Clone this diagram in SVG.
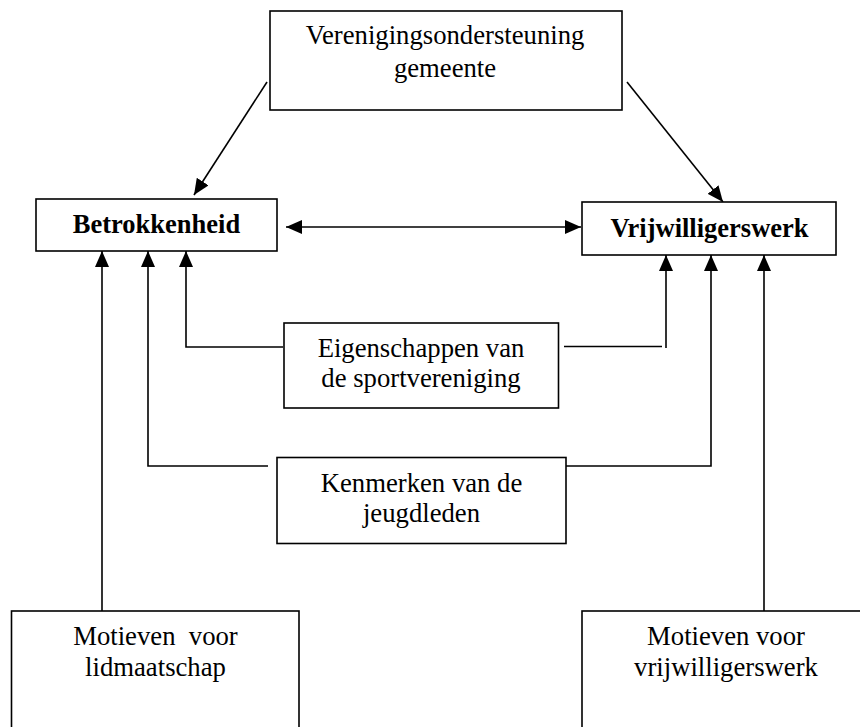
<svg xmlns="http://www.w3.org/2000/svg" width="860" height="727" viewBox="0 0 860 727">
  <style>
    .box { fill: #ffffff; stroke: #000000; stroke-width: 1.6; }
    .t { font-family: "Liberation Serif", "Times New Roman", serif; font-size: 26.7px; fill: #000000; text-anchor: middle; }
    .b { font-weight: bold; font-size: 26.5px; }
    .con { fill: none; stroke: #000000; stroke-width: 1.6; }
  </style>
  <defs>
    <marker id="ah" markerUnits="userSpaceOnUse" markerWidth="16" markerHeight="14" refX="16" refY="7" orient="auto-start-reverse">
      <path d="M0,0 L16,7 L0,14 z" fill="#000000"/>
    </marker>
  </defs>
  <rect width="860" height="727" fill="#ffffff"/>

  <g id="connectors">
    <line class="con" x1="267" y1="82" x2="194" y2="195" marker-end="url(#ah)"/>
    <line class="con" x1="627" y1="82" x2="723" y2="202" marker-end="url(#ah)"/>
    <line class="con" x1="286" y1="227" x2="581" y2="227" marker-start="url(#ah)" marker-end="url(#ah)"/>
    <line class="con" x1="102" y1="611" x2="102" y2="251" marker-end="url(#ah)"/>
    <path class="con" d="M283,347 H186 V251" marker-end="url(#ah)"/>
    <path class="con" d="M268,466 H148 V251" marker-end="url(#ah)"/>
    <line class="con" x1="564" y1="346.5" x2="662" y2="346.5"/>
    <line class="con" x1="666" y1="348" x2="666" y2="255" marker-end="url(#ah)"/>
    <path class="con" d="M566,466 H711 V255" marker-end="url(#ah)"/>
    <line class="con" x1="764" y1="611" x2="764" y2="255" marker-end="url(#ah)"/>
  </g>

  <g id="verenigingsondersteuning">
    <rect class="box" x="270" y="11" width="352" height="99"/>
    <text class="t" x="445" y="44">Verenigingsondersteuning</text>
    <text class="t" x="445" y="77">gemeente</text>
  </g>

  <g id="betrokkenheid">
    <rect class="box" x="36" y="199" width="241" height="52"/>
    <text class="t b" x="156.5" y="233">Betrokkenheid</text>
  </g>

  <g id="vrijwilligerswerk">
    <rect class="box" x="582" y="202" width="254" height="53"/>
    <text class="t b" x="709.5" y="237">Vrijwilligerswerk</text>
  </g>

  <g id="eigenschappen">
    <rect class="box" x="284" y="323" width="274.5" height="85"/>
    <text class="t" x="421" y="357">Eigenschappen van</text>
    <text class="t" x="421" y="387">de sportvereniging</text>
  </g>

  <g id="kenmerken">
    <rect class="box" x="277" y="457.5" width="289" height="86"/>
    <text class="t" x="421.5" y="492">Kenmerken van de</text>
    <text class="t" x="421.5" y="522">jeugdleden</text>
  </g>

  <g id="motieven-lidmaatschap">
    <rect class="box" x="11.5" y="611" width="287.5" height="130"/>
    <text class="t" x="155.5" y="645" xml:space="preserve">Motieven  voor</text>
    <text class="t" x="155.5" y="676">lidmaatschap</text>
  </g>

  <g id="motieven-vrijwilligerswerk">
    <rect class="box" x="582" y="611" width="288" height="130"/>
    <text class="t" x="726" y="645">Motieven voor</text>
    <text class="t" x="726" y="676">vrijwilligerswerk</text>
  </g>
</svg>
